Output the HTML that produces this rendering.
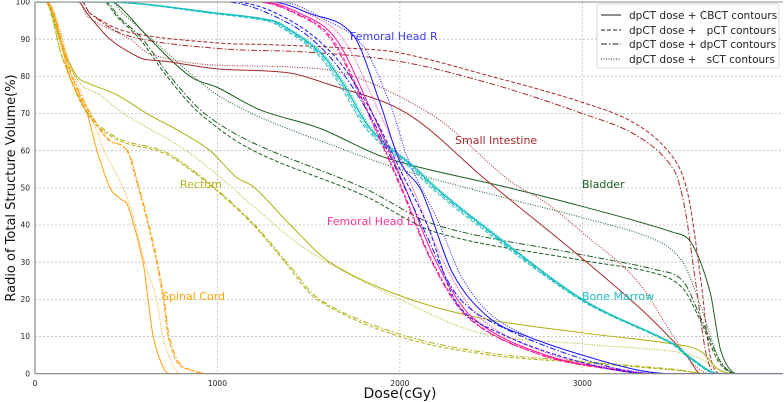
<!DOCTYPE html>
<html><head><meta charset="utf-8">
<style>
html,body{margin:0;padding:0;background:#fff;}
svg{display:block;font-family:"DejaVu Sans","Liberation Sans",sans-serif;}
</style></head>
<body>
<svg id="chart" width="784" height="402" viewBox="0 0 784 402" xmlns="http://www.w3.org/2000/svg">
<defs><clipPath id="plotclip"><rect x="35" y="2" width="748" height="371.7"/></clipPath></defs>
<g id="grid"></g>
<g id="series" clip-path="url(#plotclip)"></g>
<g id="axes"></g>
<text x="400" y="398" font-size="14" text-anchor="middle" fill="#111">Dose(cGy)</text>
<text transform="translate(15,188) rotate(-90)" font-size="13" text-anchor="middle" fill="#111">Radio of Total Structure Volume(%)</text>
<g font-size="11">
<text x="350" y="40" fill="#3a3aff">Femoral Head R</text>
<text x="455" y="144" fill="#a52a2a">Small Intestine</text>
<text x="582" y="188" fill="#1b5e20">Bladder</text>
<text x="180" y="188" fill="#b5b520">Rectum</text>
<text x="327" y="225" fill="#ff3399">Femoral Head L</text>
<text x="582" y="300" fill="#20c0c0">Bone Marrow</text>
<text x="162" y="300" fill="#ffa500">Spinal Cord</text>
</g>
<g>
<rect x="597" y="4" width="182" height="64" rx="2" fill="#fff" fill-opacity="0.9" stroke="#ccc" stroke-width="0.8"/>
<g><line x1="601" y1="15" x2="621" y2="15" stroke="#222" stroke-width="1"/><text x="629" y="19" font-size="10.5" fill="#222">dpCT dose + CBCT contours</text></g>
<g><line x1="601" y1="30" x2="621" y2="30" stroke="#222" stroke-width="1" stroke-dasharray="4,2"/><text x="629" y="34" font-size="10.5" fill="#222" xml:space="preserve">dpCT dose +   pCT contours</text></g>
<g><line x1="601" y1="44" x2="621" y2="44" stroke="#222" stroke-width="1" stroke-dasharray="6,2,1.5,2"/><text x="629" y="48" font-size="10.5" fill="#222">dpCT dose + dpCT contours</text></g>
<g><line x1="601" y1="59" x2="621" y2="59" stroke="#222" stroke-width="1" stroke-dasharray="1,1.5"/><text x="629" y="63" font-size="10.5" fill="#222" xml:space="preserve">dpCT dose +   sCT contours</text></g>
</g>
</svg>
<script>
// ---- data: [dose (cGy), volume (%)] ----
const xTicks = [0, 1000, 2000, 3000];
const yTicks = [0, 10, 20, 30, 40, 50, 60, 70, 80, 90, 100];

const spinalCbct = [[0,100],[70,100],[190,80],[285,70],[340,60],[411,50],[470,47],[510,45],[592,30],[620,20],[648,10],[700,2],[740,0],[4100,0]];
const spinalPct  = [[0,100],[60,100],[200,80],[300,70],[400,63],[503,60],[566,50],[620,40],[666,30],[703,20],[730,10],[780,3],[850,1],[940,0],[4100,0]];
const spinalDpct = [[0,100],[65,100],[205,80],[305,70],[405,63],[508,60],[571,50],[625,40],[671,30],[708,20],[736,10],[790,3],[860,1],[950,0],[4100,0]];
const spinalSct  = [[0,100],[70,100],[200,82],[300,70],[380,60],[483,50],[540,42],[600,30],[666,20],[700,10],[750,3],[795,0],[4100,0]];

const rectumCbct = [[0,100],[60,100],[150,88],[230,80],[300,78],[450,75],[613,70],[800,65],[960,60],[1100,53],[1205,50],[1400,40],[1616,30],[2000,21],[2438,15],[3000,11],[3500,8],[3650,6],[3750,1],[3850,0],[4100,0]];
const rectumPct  = [[0,100],[60,100],[150,85],[285,70],[450,63],[668,60],[758,58],[978,50],[1197,40],[1370,30],[1545,20],[2000,10],[2500,5],[3000,3],[3500,1],[3700,0],[4100,0]];
const rectumDpct = [[0,100],[60,100],[150,85],[285,70.5],[450,63.5],[668,60.5],[758,58.5],[985,50],[1205,40],[1380,30],[1560,20],[2010,10.5],[2500,5.5],[3000,3.3],[3500,1.2],[3700,0],[4100,0]];
const rectumSct  = [[0,100],[60,100],[150,87],[250,78],[356,75],[485,70],[830,60],[1085,50],[1150,47],[1500,33],[2000,20],[2438,11],[3000,8],[3500,6],[3650,4],[3750,1],[3850,0],[4100,0]];

const bladderCbct = [[0,100],[420,100],[480,98],[630,90],[850,80],[1000,77],[1233,71],[1562,66],[1928,58],[2600,50],[3000,45],[3500,38],[3600,35],[3700,22],[3760,6],[3850,0],[4100,0]];
const bladderPct  = [[0,100],[380,100],[450,96],[575,90],[723,80],[904,70],[1197,60],[1800,48],[2200,38],[3000,30.5],[3400,27],[3550,23],[3650,14],[3750,3],[3850,0],[4100,0]];
const bladderDpct = [[0,100],[390,100],[460,96],[590,90],[740,80],[930,70],[1200,62],[1800,50],[2200,40],[3000,32],[3400,28],[3550,25],[3650,15],[3760,3],[3850,0],[4100,0]];
const bladderSct  = [[0,100],[420,100],[480,97],[640,90],[870,80],[1000,75],[1233,69],[1600,62],[2000,55],[2600,47],[3000,42],[3400,36],[3550,30],[3650,18],[3750,4],[3850,0],[4100,0]];

const intestineCbct = [[0,100],[240,100],[285,97],[411,90],[575,85],[650,84.3],[723,84],[1000,82],[1380,81],[1600,78],[2040,70],[2475,52],[3000,31],[3330,17],[3570,5],[3650,0],[4100,0]];
const intestinePct  = [[0,100],[260,100],[300,97],[503,92],[1000,89],[1300,88.5],[1710,87.6],[2000,86.3],[2500,80],[3000,73],[3300,67],[3500,58],[3580,48],[3650,25],[3700,5],[3760,0],[4100,0]];
const intestineDpct = [[0,100],[260,100],[300,97],[503,91],[1000,87.5],[1500,86.5],[2000,84],[2500,78],[3000,70],[3300,64],[3500,55],[3560,45],[3620,25],[3680,5],[3740,0],[4100,0]];
const intestineSct  = [[0,100],[240,100],[290,96],[520,90],[630,86],[1000,83],[1560,82],[2165,70],[2600,52],[2800,46],[3000,38],[3300,25],[3500,10],[3600,3],[3700,0],[4100,0]];

const femRCbct = [[0,100],[1300,100],[1500,97],[1745,91],[1890,73],[2000,57],[2120,49],[2290,27],[2490,15],[2700,10],[3000,5],[3300,1],[3500,0],[4100,0]];
const femRPct  = [[0,100],[1100,100],[1400,95],[1650,85],[1850,70],[2000,55],[2150,40],[2300,20],[2500,12],[3000,3],[3400,0],[4100,0]];
const femRDpct = [[0,100],[1050,100],[1400,94],[1620,85],[1830,70],[1980,55],[2120,40],[2300,22],[2500,14],[3000,4],[3400,0],[4100,0]];
const femRSct  = [[0,100],[1350,100],[1600,95],[1800,88],[1950,72],[2050,57],[2200,42],[2350,25],[2550,14],[3000,5],[3500,0],[4100,0]];

const femLCbct = [[0,100],[1250,100],[1450,97],[1650,90],[1850,70],[2030,50],[2200,30],[2400,15],[2800,5],[3200,1],[3400,0],[4100,0]];
const femLPct  = [[0,100],[1230,100],[1430,97],[1630,90],[1830,70],[2010,50],[2180,30],[2380,15],[2780,5],[3180,1],[3380,0],[4100,0]];
const femLDpct = [[0,100],[1220,100],[1420,97],[1620,90],[1825,70],[2005,50],[2175,30],[2375,15],[2775,5],[3175,1],[3380,0],[4100,0]];
const femLSct  = [[0,100],[1290,100],[1490,97],[1690,90],[1890,70],[2070,50],[2240,30],[2440,15],[2840,5],[3240,1],[3440,0],[4100,0]];

const marrowCbct = [[0,100],[400,100],[1000,97],[1300,95],[1380,93],[1562,86.5],[1690,78],[1836,66],[2090,55],[2220,49],[2450,40],[3000,20],[3500,8],[3600,4],[3750,0],[4100,0]];
const marrowPct  = [[0,100],[390,100],[990,96.8],[1280,94.8],[1360,92.8],[1542,86.3],[1670,77.8],[1816,65.8],[2070,54.8],[2200,48.8],[2430,39.8],[2985,20],[3490,8],[3590,4],[3740,0],[4100,0]];
const marrowDpct = [[0,100],[395,100],[995,96.9],[1290,94.9],[1370,92.9],[1552,86.4],[1680,77.9],[1826,65.9],[2080,54.9],[2210,48.9],[2440,39.9],[2992,20],[3495,8],[3595,4],[3745,0],[4100,0]];
const marrowSct  = [[0,100],[410,100],[1010,97],[1310,95],[1390,93],[1572,86.5],[1700,78],[1846,66],[2100,55],[2230,49],[2460,40],[3005,20],[3505,8],[3605,4],[3755,0],[4100,0]];

// ---- scales ----
const X0 = 35, X1 = 783, Y0 = 373.7, Y1 = 2, DMAX = 4100;
function xs(d){ return X0 + d / DMAX * (X1 - X0); }
function ys(v){ return Y0 - v / 100 * (Y0 - Y1); }
const NS = 'http://www.w3.org/2000/svg';
function mk(tag, attrs, parent){
  const el = document.createElementNS(NS, tag);
  for (const k in attrs) el.setAttribute(k, attrs[k]);
  parent.appendChild(el); return el;
}
// smooth cubic path (finite-difference tangents, gentle limiting)
function pathFor(pts){
  const P = pts.map(p => [xs(p[0]), ys(p[1])]);
  const n = P.length;
  const d = [], m = new Array(n);
  for (let i = 0; i < n - 1; i++) d.push((P[i+1][1]-P[i][1]) / (P[i+1][0]-P[i][0]));
  m[0] = d[0]; m[n-1] = d[n-2];
  for (let i = 1; i < n - 1; i++) {
    if (d[i-1] === 0 || d[i] === 0) { m[i] = (d[i-1] + d[i]) * 0.25; continue; }
    m[i] = (P[i+1][1]-P[i-1][1]) / (P[i+1][0]-P[i-1][0]);
  }
  for (let i = 0; i < n - 1; i++) {
    if (d[i] === 0) { m[i] = Math.min(Math.abs(m[i]), 0) ; m[i+1] = m[i+1] * 0.5; continue; }
    const a = m[i]/d[i], b = m[i+1]/d[i], s = a*a + b*b;
    if (s > 9) { const t = 3/Math.sqrt(s); m[i] = t*a*d[i]; m[i+1] = t*b*d[i]; }
  }
  let s = 'M' + P[0][0].toFixed(2) + ',' + P[0][1].toFixed(2);
  for (let i = 0; i < n - 1; i++) {
    const h = (P[i+1][0] - P[i][0]) / 3;
    s += 'C' + (P[i][0]+h).toFixed(2) + ',' + (P[i][1]+m[i]*h).toFixed(2) + ' ' +
         (P[i+1][0]-h).toFixed(2) + ',' + (P[i+1][1]-m[i+1]*h).toFixed(2) + ' ' +
         P[i+1][0].toFixed(2) + ',' + P[i+1][1].toFixed(2);
  }
  return s;
}

const grid = document.getElementById('grid');
xTicks.forEach(t => {
  const l = mk('line', {x1: xs(t), x2: xs(t), y1: Y1, y2: Y0, stroke: '#bbb', 'stroke-width': 0.8, 'stroke-dasharray': '2,2'}, grid);
  
  
});
yTicks.forEach(t => {
  const l = mk('line', {x1: X0, x2: X1, y1: ys(t), y2: ys(t), stroke: '#bbb', 'stroke-width': 0.8, 'stroke-dasharray': '2,2'}, grid);
  
  
});

const styles = {cbct: null, pct: '4,2', dpct: '6,2,1.5,2', sct: '1,1.5'};
const seriesList = [
  ['bladder', '#1b5e20', {cbct: bladderCbct, pct: bladderPct, dpct: bladderDpct, sct: bladderSct}],
  ['small-intestine', '#a52a2a', {cbct: intestineCbct, pct: intestinePct, dpct: intestineDpct, sct: intestineSct}],
  ['rectum', '#b0b010', {cbct: rectumCbct, pct: rectumPct, dpct: rectumDpct, sct: rectumSct}],
  ['spinal-cord', '#ffa010', {cbct: spinalCbct, pct: spinalPct, dpct: spinalDpct, sct: spinalSct}],
  ['bone-marrow', '#1cc0c0', {cbct: marrowCbct, pct: marrowPct, dpct: marrowDpct, sct: marrowSct}],
  ['femoral-head-l', '#ff1493', {cbct: femLCbct, pct: femLPct, dpct: femLDpct, sct: femLSct}],
  ['femoral-head-r', '#1515ff', {cbct: femRCbct, pct: femRPct, dpct: femRDpct, sct: femRSct}]
];
const sg = document.getElementById('series');
seriesList.forEach(([name, color, variants]) => {
  for (const v in variants) {
    const attrs = {d: pathFor(variants[v]), fill: 'none', stroke: color, 'stroke-width': name === 'bone-marrow' && v === 'cbct' ? 1.4 : 1};
    if (styles[v]) attrs['stroke-dasharray'] = styles[v];
    const p = mk('path', attrs, sg);
    
    
  }
});

const ax = document.getElementById('axes');
const yAxis = mk('line', {x1: X0, x2: X0, y1: Y1, y2: Y0, stroke: '#888', 'stroke-width': 1.2}, ax);


const xAxis = mk('line', {x1: X0, x2: X1, y1: Y0, y2: Y0, stroke: '#888', 'stroke-width': 1.2}, ax);


const topSpine = mk('line', {x1: X0, x2: X1, y1: Y1, y2: Y1, stroke: '#888', 'stroke-width': 1}, ax);


xTicks.forEach(t => {
  const tx = mk('text', {x: xs(t), y: 386, 'font-size': 7.5, 'text-anchor': 'middle', fill: '#222'}, ax);
  tx.textContent = t;
  
  
});
yTicks.forEach(t => {
  const tx = mk('text', {x: 30, y: ys(t) + 2.7, 'font-size': 7.5, 'text-anchor': 'end', fill: '#222'}, ax);
  tx.textContent = t;
  
  
});
</script>
</body></html>
